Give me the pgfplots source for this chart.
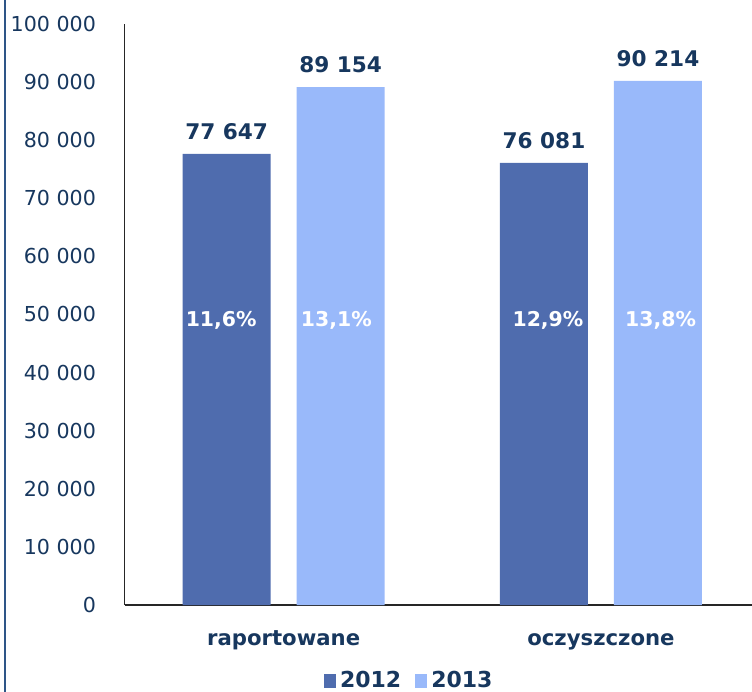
\documentclass[border=0pt]{standalone}
\usepackage{pgfplots}
\pgfplotsset{compat=1.18}
\usepackage{fontspec}
\setmainfont{DejaVu Sans}
\definecolor{bara}{HTML}{4F6CAE}
\definecolor{barb}{HTML}{99B9FA}
\definecolor{navy}{HTML}{17375E}
\definecolor{framec}{HTML}{2E5587}
\begin{document}
\begin{tikzpicture}
\useasboundingbox (-62.5pt,-43.5pt) rectangle (313.5pt,302.5pt);
\draw[framec, line width=1pt] (-60pt,-43.5pt) -- (-60pt,302.5pt);
\begin{axis}[
    scale only axis,
    width=313.5pt, height=290.5pt,
    ybar=13pt, bar width=44pt,
    xmin=-0.5, xmax=1.476,
    ymin=0, ymax=100000,
    enlargelimits=false,
    axis x line*=bottom, axis y line*=left,
    x axis line style={-, line width=1pt, color=black!85},
    y axis line style={-, line width=0.5pt, color=black!85},
    major tick length=0pt,
    xtick={0,1}, xticklabels={raportowane, oczyszczone},
    ytick={0,10000,20000,30000,40000,50000,60000,70000,80000,90000,100000},
    scaled y ticks=false,
    yticklabel style={font=\fontsize{10.3pt}{12pt}\selectfont, text=navy, xshift=-11pt,
        /pgf/number format/fixed, /pgf/number format/1000 sep={\ },
        /pgf/number format/assume math mode=true},
    xticklabel style={font=\fontsize{10.6pt}{12pt}\bfseries\selectfont, text=navy, anchor=base, yshift=-20pt},
    nodes near coords,
    nodes near coords style={font=\fontsize{10.8pt}{13pt}\bfseries\selectfont, text=navy, yshift=3.5pt,
        /pgf/number format/fixed, /pgf/number format/1000 sep={\ },
        /pgf/number format/assume math mode=true},
    legend style={at={(0.455,-0.131)}, anchor=center, draw=none, legend columns=2,
        font=\fontsize{11pt}{13pt}\bfseries\selectfont, text=navy,
        /tikz/every even column/.append style={column sep=5pt}},
    legend image code/.code={\fill[#1] (0pt,-3.6pt) rectangle (6pt,3.4pt);},
]
\addplot[fill=bara, draw=none] coordinates {(0,77647) (1,76081)};
\addplot[fill=barb, draw=none] coordinates {(0,89154) (1,90214)};
\legend{2012, 2013}
\node[text=white, font=\fontsize{10.2pt}{12pt}\bfseries\selectfont] at (axis cs:-0.197,49000) {11,6\%};
\node[text=white, font=\fontsize{10.2pt}{12pt}\bfseries\selectfont] at (axis cs:0.166,49000) {13,1\%};
\node[text=white, font=\fontsize{10.2pt}{12pt}\bfseries\selectfont] at (axis cs:0.833,49000) {12,9\%};
\node[text=white, font=\fontsize{10.2pt}{12pt}\bfseries\selectfont] at (axis cs:1.188,49000) {13,8\%};
\end{axis}
\end{tikzpicture}
\end{document}
